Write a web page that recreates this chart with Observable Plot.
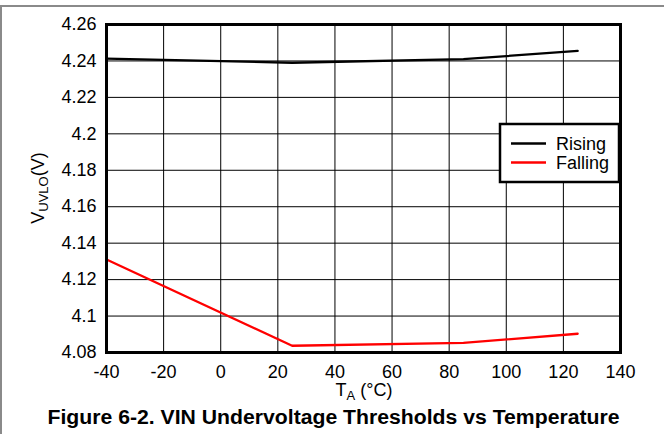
<!DOCTYPE html>
<html><head><meta charset="utf-8">
<script src="https://cdn.jsdelivr.net/npm/d3@7"></script>
<script src="https://cdn.jsdelivr.net/npm/@observablehq/plot@0.6"></script>
<style>
body{margin:0;background:#fff;}
#wrap{position:relative;width:664px;height:434px;overflow:hidden;}
#edge{position:absolute;left:0;top:5px;width:664px;height:440px;border-top:2px solid #8a8a8a;border-left:2px solid #8a8a8a;box-sizing:border-box;pointer-events:none;}
</style></head><body><div id="wrap"><div id="edge"></div></div>
<script>
const series = ["Rising", "Falling"];
const temps = [-40, 25, 85, 125];
const rising = [4.2413, 4.2390, 4.2410, 4.2455];
const falling = [4.1310, 4.0837, 4.0853, 4.0903];
const xTicks = [-40, -20, 0, 20, 40, 60, 80, 100, 120, 140];
const yTicks = [4.08, 4.10, 4.12, 4.14, 4.16, 4.18, 4.20, 4.22, 4.24, 4.26];
const caption = "Figure 6-2. VIN Undervoltage Thresholds vs Temperature";
const colors = ["#000000", "#ff0000"];

const data = [];
temps.forEach((t, i) => data.push({series: "Rising", t, v: rising[i]}));
temps.forEach((t, i) => data.push({series: "Falling", t, v: falling[i]}));

const font = "'Liberation Sans', Arial, sans-serif";
const plot = Plot.plot({
  width: 664, height: 434,
  marginLeft: 106, marginRight: 44, marginTop: 24, marginBottom: 82,
  style: {fontFamily: font, fontSize: "18px", color: "#000", background: "transparent", overflow: "visible"},
  x: {domain: [-40, 140]},
  y: {domain: [4.08, 4.26]},
  color: {domain: series, range: colors},
  marks: [
    Plot.gridX(xTicks, {stroke: "#000", strokeOpacity: 1, strokeWidth: 1}),
    Plot.gridY(yTicks, {stroke: "#000", strokeOpacity: 1, strokeWidth: 1}),
    Plot.axisX(xTicks, {tickSize: 0, tickPadding: 13, label: null, fontSize: 18, fill: "#000", tickFormat: d => String(d)}),
    Plot.axisY(yTicks, {tickSize: 0, tickPadding: 10, label: null, fontSize: 18, fill: "#000", tickFormat: d => String(+d.toFixed(2))}),
    Plot.line(data, {x: "t", y: "v", z: "series", stroke: "series", strokeWidth: 2.3}),
    Plot.frame({stroke: "#000", strokeWidth: 3}),
    Plot.text([caption], {frameAnchor: "bottom", lineAnchor: "middle", dx: -30, dy: 65, fontWeight: "bold", fontSize: 20, fill: "#000", className: "cap"})
  ]
});
plot.style.position = "absolute";
plot.style.left = "0px";
plot.style.top = "0px";
document.getElementById("wrap").appendChild(plot);

const svg = d3.select(plot);
svg.selectAll(".cap text").attr("textLength", 572).attr("lengthAdjust", "spacingAndGlyphs");

// axis titles with subscripts
const yl = svg.append("text")
  .attr("transform", "translate(44,188) rotate(-90)")
  .attr("text-anchor", "middle")
  .attr("font-family", font).attr("font-size", 18).attr("fill", "#000");
yl.append("tspan").text("V");
yl.append("tspan").attr("font-size", 13).attr("dy", 4).text("UVLO");
yl.append("tspan").attr("dy", -4).text("(V)");

const xl = svg.append("text")
  .attr("x", 364).attr("y", 396)
  .attr("text-anchor", "middle")
  .attr("font-family", font).attr("font-size", 18).attr("fill", "#000");
xl.append("tspan").text("T");
xl.append("tspan").attr("font-size", 13).attr("dy", 4).text("A");
xl.append("tspan").attr("dy", -4).text(" (°C)");

// legend
const lg = svg.append("g");
lg.append("rect").attr("x", 500).attr("y", 124).attr("width", 119).attr("height", 58)
  .attr("fill", "#fff").attr("stroke", "#000").attr("stroke-width", 2.5);
series.forEach((s, i) => {
  const cy = 143.5 + i * 19;
  lg.append("line").attr("x1", 511).attr("x2", 546).attr("y1", cy).attr("y2", cy)
    .attr("stroke", colors[i]).attr("stroke-width", 2.3);
  lg.append("text").attr("x", 556).attr("y", cy + 6).attr("text-anchor", "start")
    .attr("font-family", font).attr("font-size", 18).attr("fill", "#000").text(s);
});
</script>
</body></html>
